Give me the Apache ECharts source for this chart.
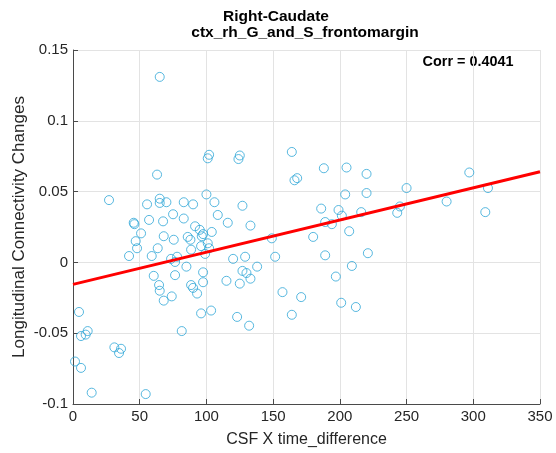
<!DOCTYPE html>
<html>
<head>
<meta charset="utf-8">
<script src="https://cdn.jsdelivr.net/npm/echarts@6/dist/echarts.min.js"></script>
<style>
html,body{margin:0;padding:0;background:#fff;}
#chart{width:556px;height:453px;}
</style>
</head>
<body>
<div id="chart"></div>
<script>
const titleLine1 = 'Right-Caudate';
const titleLine2 = 'ctx_rh_G_and_S_frontomargin';
const corrText = 'Corr = 0.4041';
const xLabel = 'CSF X time_difference';
const yLabel = 'Longitudinal Connectivity Changes';

const xTicks = [0, 50, 100, 150, 200, 250, 300, 350];
const yTicks = [-0.1, -0.05, 0, 0.05, 0.1, 0.15];

const csfX = [
  65, 102, 101, 63, 125, 124, 164, 188, 205, 220,
  166, 168, 204, 220, 127, 116, 133, 186, 199, 201.5,
  216, 189, 194, 207, 149, 180, 151.5, 189, 221, 120,
  129, 138, 209, 127, 130, 115, 125, 133, 197, 157,
  171, 201, 212, 123, 132, 164, 297, 250, 245, 243,
  280, 311, 309, 27, 55.5, 65, 65, 70, 83, 90,
  100, 106, 108.5, 57, 45.5, 46, 67.5, 75, 83, 51,
  68, 91.5, 95, 104, 86, 88, 96.5, 97.5, 75.5, 47,
  48, 63.5, 88.5, 96, 101, 102, 99, 42, 59, 73.5,
  78, 76.5, 85, 60.5, 76.5, 97.5, 64.5, 65, 88.5, 90,
  97.5, 93, 74, 68, 4.5, 96, 103.5, 81.5, 11, 9.5,
  6, 31, 36, 34.5, 1.5, 6, 14, 54.5
];
const connChange = [
  0.131, 0.076, 0.0735, 0.062, 0.0755, 0.073, 0.078, 0.0665, 0.067, 0.0625,
  0.058, 0.0595, 0.048, 0.049, 0.040, 0.028, 0.026, 0.038, 0.037, 0.033,
  0.0355, 0.0285, 0.027, 0.022, 0.017, 0.018, 0.004, 0.005, 0.0065, 0.0025,
  0.004, -0.003, -0.0025, -0.006, -0.0075, -0.013, -0.015, -0.0115, -0.010, -0.021,
  -0.0245, -0.0285, -0.0315, -0.0385, -0.0447, -0.037, 0.0635, 0.0525, 0.0395, 0.035,
  0.043, 0.0525, 0.0355, 0.044, 0.041, 0.045, 0.042, 0.0425, 0.0425, 0.041,
  0.048, 0.0425, 0.0335, 0.030, 0.028, 0.027, 0.029, 0.034, 0.031, 0.0205,
  0.0185, 0.0255, 0.023, 0.0215, 0.018, 0.016, 0.0185, 0.020, 0.016, 0.015,
  0.010, 0.010, 0.009, 0.0115, 0.0135, 0.010, 0.006, 0.0045, 0.0045, 0.0025,
  0.004, 0.0003, -0.003, -0.0095, -0.009, -0.007, -0.016, -0.020, -0.016, -0.018,
  -0.014, -0.022, -0.024, -0.027, -0.035, -0.036, -0.034, -0.0485, -0.0485, -0.051,
  -0.052, -0.060, -0.061, -0.064, -0.070, -0.0745, -0.092, -0.093
];

const fitX = [0, 350];
const fitY = [-0.0155, 0.064];

const scatterData = csfX.map((x, i) => [x, connChange[i]]);
const fitData = fitX.map((x, i) => [x, fitY[i]]);

const FONT = '"Liberation Sans", Arial, Helvetica, sans-serif';
const chart = echarts.init(document.getElementById('chart'));
chart.setOption({
  animation: false,
  backgroundColor: '#fff',
  grid: { left: 73, right: 16, top: 50, bottom: 49, containLabel: false, outerBoundsMode: 'none' },
  xAxis: {
    type: 'value', min: xTicks[0], max: xTicks[xTicks.length - 1], interval: 50,
    name: xLabel, nameLocation: 'middle', nameGap: 28, nameMoveOverlap: false,
    nameTextStyle: { fontFamily: FONT, fontSize: 16, color: '#262626' },
    axisLine: { show: true, onZero: false, lineStyle: { color: '#4a4a4a', width: 1 } },
    axisTick: { show: true, inside: true, length: 5, lineStyle: { color: '#4a4a4a' } },
    axisLabel: { fontFamily: FONT, fontSize: 15, color: '#262626', margin: 5 },
    splitLine: { show: true, lineStyle: { color: '#e3e3e3', width: 1 } }
  },
  yAxis: {
    type: 'value', min: yTicks[0], max: yTicks[yTicks.length - 1], interval: 0.05,
    name: yLabel, nameLocation: 'middle', nameGap: 45, nameMoveOverlap: false,
    nameTextStyle: { fontFamily: FONT, fontSize: 17, color: '#262626' },
    axisLine: { show: true, onZero: false, lineStyle: { color: '#4a4a4a', width: 1 } },
    axisTick: { show: true, inside: true, length: 5, lineStyle: { color: '#4a4a4a' } },
    axisLabel: { fontFamily: FONT, fontSize: 15, color: '#262626', margin: 5 },
    splitLine: { show: true, lineStyle: { color: '#e3e3e3', width: 1 } }
  },
  graphic: [
    { type: 'text', x: 276, y: 17, style: { text: titleLine1, font: 'bold 15.5px ' + FONT, fill: '#000', textAlign: 'center', textVerticalAlign: 'middle' } },
    { type: 'text', x: 305, y: 33, style: { text: titleLine2, font: 'bold 15.5px ' + FONT, fill: '#000', textAlign: 'center', textVerticalAlign: 'middle' } },
    { type: 'text', x: 468, y: 62, style: { text: corrText, font: 'bold 14.4px ' + FONT, fill: '#000', textAlign: 'center', textVerticalAlign: 'middle' } }
  ],
  series: [
    {
      type: 'scatter', data: scatterData, symbol: 'circle', symbolSize: 9,
      itemStyle: { color: 'rgba(0,0,0,0)', borderColor: '#2ea6d7', borderWidth: 1 },
      z: 2
    },
    {
      type: 'line', data: fitData, symbol: 'none',
      lineStyle: { color: '#ff0000', width: 3 }, z: 3
    }
  ]
});
</script>
</body>
</html>
